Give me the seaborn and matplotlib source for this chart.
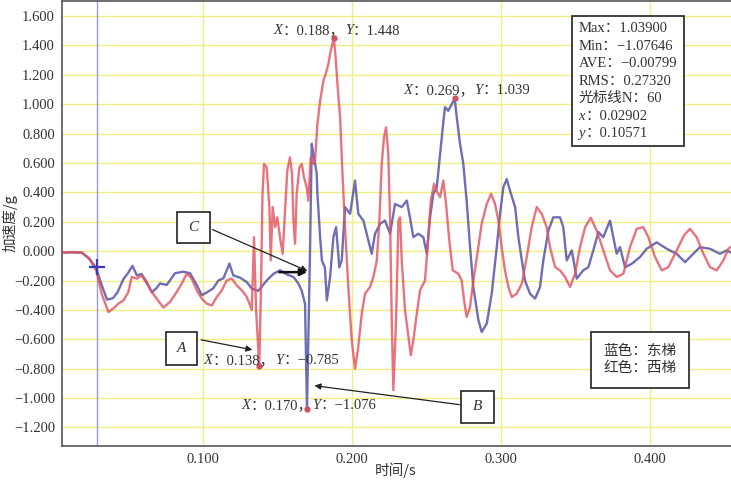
import numpy as np
import pandas as pd
import matplotlib
matplotlib.use("Agg")
import matplotlib.pyplot as plt
import seaborn as sns
from matplotlib.offsetbox import TextArea, HPacker, VPacker, AnnotationBbox
from matplotlib.patches import Rectangle

# ---------------- data ----------------
blue_t = [0.006, 0.012, 0.019, 0.024, 0.0287, 0.032, 0.036, 0.040, 0.043, 0.047, 0.050, 0.053, 0.056, 0.059,
          0.0626, 0.066, 0.0693, 0.0715, 0.076, 0.0816, 0.0871, 0.0916, 0.0961, 0.0995, 0.103, 0.107, 0.1106,
          0.114, 0.118, 0.1206, 0.125, 0.1296, 0.133, 0.1374, 0.143, 0.1475, 0.152, 0.1564, 0.161, 0.1642,
          0.1665, 0.1687, 0.170, 0.172, 0.1732, 0.1743, 0.1765, 0.177, 0.1788, 0.180, 0.182, 0.1833, 0.1855,
          0.1877, 0.1895, 0.1917, 0.1933, 0.1955, 0.1989, 0.2022, 0.2044, 0.2078, 0.2111, 0.2134, 0.2156,
          0.219, 0.2223, 0.2257, 0.229, 0.2335, 0.2369, 0.239, 0.2413, 0.2446, 0.248, 0.2503, 0.2525, 0.2547,
          0.257, 0.2592, 0.261, 0.2625, 0.2647, 0.269, 0.2704, 0.2726, 0.2748, 0.277, 0.2793, 0.2815, 0.2849,
          0.2871, 0.2905, 0.2938, 0.2972, 0.2994, 0.3016, 0.3039, 0.3061, 0.3095, 0.3117, 0.314, 0.3161,
          0.3195, 0.3229, 0.3262, 0.3284, 0.3318, 0.3351, 0.3396, 0.3418, 0.3441, 0.3475, 0.3508, 0.3552,
          0.3586, 0.3619, 0.3653, 0.3686, 0.3731, 0.3753, 0.3776, 0.3798, 0.3832, 0.3877, 0.3932, 0.3977,
          0.4044, 0.4111, 0.4178, 0.4234, 0.4289, 0.4334, 0.4401, 0.4468, 0.4513, 0.4542]
blue_a = [-0.01, -0.008, -0.01, -0.05, -0.115, -0.22, -0.33, -0.32, -0.28, -0.19, -0.15, -0.10, -0.165, -0.155,
          -0.21, -0.28, -0.25, -0.22, -0.23, -0.15, -0.14, -0.15, -0.23, -0.30, -0.28, -0.255, -0.20,
          -0.185, -0.085, -0.165, -0.18, -0.21, -0.255, -0.27, -0.20, -0.155, -0.13, -0.158, -0.176, -0.22,
          -0.27, -0.36, -1.076, -0.02, 0.73, 0.66, 0.53, 0.39, 0.095, -0.063, -0.11, -0.335, -0.176,
          0.095, 0.163, -0.11, -0.063, 0.30, 0.254, 0.48, 0.254, 0.208, 0.073, -0.018, 0.118,
          0.186, 0.208, 0.118, 0.32, 0.30, 0.344, 0.23, 0.095, 0.118, 0.095, -0.018, 0.23, 0.39,
          0.435, 0.66, 0.84, 0.98, 0.955, 1.039, 0.91, 0.73, 0.593, 0.344, 0.027, -0.244, -0.47,
          -0.55, -0.493, -0.29, 0.027, 0.254, 0.435, 0.49, 0.41, 0.30, 0.095, -0.063, -0.20,
          -0.29, -0.323, -0.244, -0.063, 0.14, 0.23, 0.23, 0.163, -0.063, 0.005, -0.187, -0.13,
          -0.11, 0.005, 0.13, 0.095, 0.208, 0.095, -0.018, 0.027, -0.11, -0.086, -0.04, 0.016,
          0.06, 0.016, -0.018, -0.075, -0.018, 0.027, 0.016, -0.018, 0.005, -0.01]

red_t = [0.006, 0.012, 0.019, 0.024, 0.0287, 0.0324, 0.0369, 0.0402, 0.0436, 0.047, 0.0503, 0.0525, 0.0559,
         0.0592, 0.0626, 0.066, 0.0693, 0.0737, 0.0782, 0.0827, 0.0861, 0.0894, 0.0928, 0.0961, 0.0995,
         0.1028, 0.1062, 0.1095, 0.1129, 0.1162, 0.1196, 0.1229, 0.1263, 0.1296, 0.133, 0.1345, 0.1358,
         0.138, 0.1392, 0.1402, 0.1412, 0.143, 0.1448, 0.1457, 0.147, 0.1486, 0.1501, 0.1519, 0.1537,
         0.1553, 0.1568, 0.1586, 0.160, 0.1609, 0.162, 0.1631, 0.1649, 0.1665, 0.168, 0.1698, 0.1709,
         0.1725, 0.1739, 0.1754, 0.177, 0.1788, 0.181, 0.1828, 0.1843, 0.1859, 0.188, 0.1892, 0.1906,
         0.1922, 0.194, 0.1955, 0.1977, 0.200, 0.2022, 0.2044, 0.2067, 0.2089, 0.2123, 0.2145, 0.2168,
         0.2185, 0.2201, 0.2216, 0.223, 0.2245, 0.2257, 0.2268, 0.2279, 0.2297, 0.2313, 0.2324, 0.2335,
         0.2357, 0.238, 0.2396, 0.2413, 0.2436, 0.2458, 0.2491, 0.2513, 0.253, 0.2552, 0.2574, 0.2592,
         0.2614, 0.2632, 0.2654, 0.2677, 0.2714, 0.2737, 0.2753, 0.277, 0.2793, 0.2815, 0.2842, 0.2871,
         0.2905, 0.2934, 0.296, 0.2983, 0.3005, 0.3027, 0.305, 0.3072, 0.3106, 0.314, 0.3173, 0.3206,
         0.324, 0.3273, 0.3307, 0.3329, 0.3363, 0.3396, 0.343, 0.3463, 0.3497, 0.353, 0.3564, 0.3602,
         0.3642, 0.3686, 0.3731, 0.3776, 0.3821, 0.3865, 0.391, 0.3954, 0.3988, 0.4033, 0.4078, 0.4122,
         0.4178, 0.4227, 0.4267, 0.4312, 0.4357, 0.4401, 0.4446, 0.4491, 0.4525, 0.4542]
red_a = [-0.01, -0.008, -0.01, -0.05, -0.13, -0.29, -0.414, -0.39, -0.357, -0.335, -0.278, -0.176, -0.187,
         -0.165, -0.22, -0.278, -0.323, -0.384, -0.346, -0.278, -0.22, -0.153, -0.187, -0.267, -0.323,
         -0.357, -0.37, -0.312, -0.267, -0.20, -0.187, -0.233, -0.267, -0.31, -0.40, 0.095, -0.38,
         -0.785, -0.244, 0.39, 0.593, 0.57, 0.30, -0.063, 0.30, 0.163, 0.23, 0.095, -0.018,
         0.276, 0.548, 0.638, 0.525, 0.208, 0.05, 0.39, 0.57, 0.593, 0.502, 0.435, 0.344,
         0.638, 0.593, 0.616, 0.865, 1.023, 1.159, 1.215, 1.272, 1.362, 1.448, 1.317, 1.113,
         0.91, 0.48, 0.163, -0.244, -0.606, -0.80, -0.65, -0.425, -0.29, -0.244, -0.176, -0.063,
         0.208, 0.593, 0.774, 0.842, 0.661, 0.208, -0.47, -0.946, -0.47, 0.208, 0.23, -0.063,
         -0.40, -0.584, -0.708, -0.606, -0.425, -0.267, -0.20, 0.095, 0.344, 0.458, 0.40, 0.367,
         0.48, 0.322, 0.073, -0.131, -0.153, -0.20, -0.335, -0.448, -0.38, -0.20, -0.018, 0.186,
         0.322, 0.39, 0.322, 0.208, 0.027, -0.131, -0.244, -0.312, -0.29, -0.221, -0.04, 0.163,
         0.30, 0.254, 0.163, 0.027, -0.109, -0.131, -0.176, -0.244, -0.153, 0.027, 0.163, 0.227,
         0.14, 0.005, -0.131, -0.176, -0.153, 0.027, 0.152, 0.163, 0.095, -0.04, -0.131, -0.109,
         0.005, 0.107, 0.152, 0.095, -0.018, -0.109, -0.131, -0.063, 0.016, 0.03]

series_names = ["东梯", "西梯"]
x_ticks = [0.1, 0.2, 0.3, 0.4]
x_tick_labels = ["0.100", "0.200", "0.300", "0.400"]
y_ticks = [-1.2, -1.0, -0.8, -0.6, -0.4, -0.2, 0.0, 0.2, 0.4, 0.6, 0.8, 1.0, 1.2, 1.4, 1.6]
y_tick_labels = ["−1.200", "−1.000", "−0.800", "−0.600", "−0.400", "−0.200", "0.000", "0.200",
                 "0.400", "0.600", "0.800", "1.000", "1.200", "1.400", "1.600"]

# marked points (X, Y) shown by annotations
mark_x = [0.188, 0.269, 0.138, 0.170]
mark_y = [1.448, 1.039, -0.785, -1.076]
mark_labels = [("0.188", "1.448"), ("0.269", "1.039"), ("0.138", "−0.785"), ("0.170", "−1.076")]

cursor_x = 0.02902
cursor_y = -0.106

stats_lines = [[("Max：1.03900", False)],
               [("Min：−1.07646", False)],
               [("AVE：−0.00799", False)],
               [("RMS：0.27320", False)],
               [("光标线N：60", False)],
               [("x", True), ("：0.02902", False)],
               [("y", True), ("：0.10571", False)]]
legend_lines = ["蓝色：东梯", "红色：西梯"]

# ---------------- styling ----------------
sns.set_style("white")
SERIF = ["Liberation Serif", "Noto Sans CJK SC"]
CJK = ["Noto Sans CJK SC", "Liberation Serif"]
plt.rcParams["font.family"] = SERIF
plt.rcParams["axes.unicode_minus"] = True

BLUE = "#4a4aa6"
RED = "#e2505e"
GRID = "#eeee84"
TXT = "#333333"

df = pd.concat([
    pd.DataFrame({"t": blue_t, "a": blue_a, "梯": series_names[0]}),
    pd.DataFrame({"t": red_t, "a": red_a, "梯": series_names[1]}),
], ignore_index=True)

fig = plt.figure(figsize=(7.31, 4.84), dpi=100)
ax = fig.add_axes([62 / 731, 38 / 484, 669 / 731, 445 / 484])

sns.lineplot(data=df, x="t", y="a", hue="梯", palette={series_names[0]: BLUE, series_names[1]: RED},
             estimator=None, sort=False, legend=False, lw=1.7, alpha=0.8, ax=ax, zorder=3)

ax.set_xlim(0.0058, 0.4542)
ax.set_ylim(-1.326, 1.702)
ax.set_xticks(x_ticks)
ax.set_xticklabels(x_tick_labels)
ax.set_yticks(y_ticks)
ax.set_yticklabels(y_tick_labels)
ax.grid(True, color=GRID, lw=1.0, zorder=0)
ax.set_axisbelow(True)
ax.tick_params(length=0, labelsize=10.5, labelcolor=TXT, pad=5)
for lab in ax.get_xticklabels() + ax.get_yticklabels():
    lab.set_family(SERIF)
for side in ["left", "bottom", "top"]:
    ax.spines[side].set_color("#555555")
    ax.spines[side].set_linewidth(1.2)
ax.spines["right"].set_visible(False)

ax.set_xlabel("时间/s", family=CJK, fontsize=10.5, color=TXT)
ax.set_ylabel("加速度/g", family=CJK, fontsize=10.5, color=TXT)
ax.xaxis.set_label_coords(0.499, -0.036)
ax.yaxis.set_label_coords(-0.066, 0.5)

# cursor line and cross
ax.axvline(cursor_x, color="#9a9ad0", lw=1.0, zorder=2)
ax.plot([cursor_x], [cursor_y], marker="+", ms=12, mew=1.6, color="#3a3ab8", zorder=5)

# marked points
ax.plot(mark_x, mark_y, ls="none", marker="o", ms=3.5, color="#d05060", zorder=6)


def rich(parts, size=10.5, color=TXT):
    areas = [TextArea(t, textprops=dict(family=SERIF, style="italic" if it else "normal",
                                        size=size, color=color)) for t, it in parts]
    return HPacker(children=areas, align="baseline", pad=0, sep=0)


def xy_label(xv, yv):
    return rich([("X", True), ("：" + xv + "，", False), ("Y", True), ("：" + yv, False)])


label_pos = [(0.1902, 1.498), (0.2773, 1.091), (0.1462, -0.742), (0.1712, -1.048)]
for (xv, yv), (lx, ly) in zip(mark_labels, label_pos):
    ab = AnnotationBbox(xy_label(xv, yv), (lx, ly), xycoords="data", frameon=False,
                        box_alignment=(0.5, 0.5), pad=0, zorder=7)
    ax.add_artist(ab)

# stats box
stats_box = VPacker(children=[rich(l, size=10.5) for l in stats_lines], align="left", pad=0, sep=3.2)
ab = AnnotationBbox(stats_box, (0.846, 0.820), xycoords="axes fraction", frameon=True,
                    box_alignment=(0.5, 0.5), pad=0.45,
                    bboxprops=dict(edgecolor="#333333", lw=1.3, facecolor="white"), zorder=8)
ax.add_artist(ab)

# legend box
leg_box = VPacker(children=[TextArea(s, textprops=dict(family=CJK, size=10.5, color=TXT)) for s in legend_lines],
                  align="left", pad=0, sep=2)
ab = AnnotationBbox(leg_box, (0.864, 0.194), xycoords="axes fraction", frameon=True,
                    box_alignment=(0.5, 0.5), pad=0.9,
                    bboxprops=dict(edgecolor="#333333", lw=1.3, facecolor="white"), zorder=8)
ax.add_artist(ab)

# A, B, C boxes (axes fraction)
boxes = {"C": (0.172, 0.4555, 0.049, 0.071), "A": (0.1555, 0.182, 0.047, 0.074),
         "B": (0.5964, 0.052, 0.050, 0.072)}
for name, (bx, by, bw, bh) in boxes.items():
    ax.add_patch(Rectangle((bx, by), bw, bh, transform=ax.transAxes, facecolor="white",
                           edgecolor="#222222", lw=1.2, zorder=8))
    ax.text(bx + bw / 2, by + bh / 2, name, transform=ax.transAxes, ha="center", va="center",
            fontsize=11, style="italic", family=SERIF, color=TXT, zorder=9)

arrow_kw = dict(arrowstyle="-|>", color="#222222", lw=0.9, mutation_scale=9)
# C arrow
ax.annotate("", xy=(0.1720, -0.143), xytext=(0.1050, 0.154), xycoords="data",
            arrowprops=arrow_kw, zorder=9)
# short thick arrow along blue curve
ax.annotate("", xy=(0.1720, -0.143), xytext=(0.1497, -0.143), xycoords="data",
            arrowprops=dict(arrowstyle="-|>", color="#111111", lw=1.8, mutation_scale=10), zorder=9)
# A arrow
ax.annotate("", xy=(0.1352, -0.675), xytext=(0.0972, -0.600), xycoords="data",
            arrowprops=arrow_kw, zorder=9)
# B arrow
ax.annotate("", xy=(0.1732, -0.913), xytext=(0.2740, -1.047), xycoords="data",
            arrowprops=arrow_kw, zorder=9)

fig.savefig("out.png", dpi=100, facecolor="white")
